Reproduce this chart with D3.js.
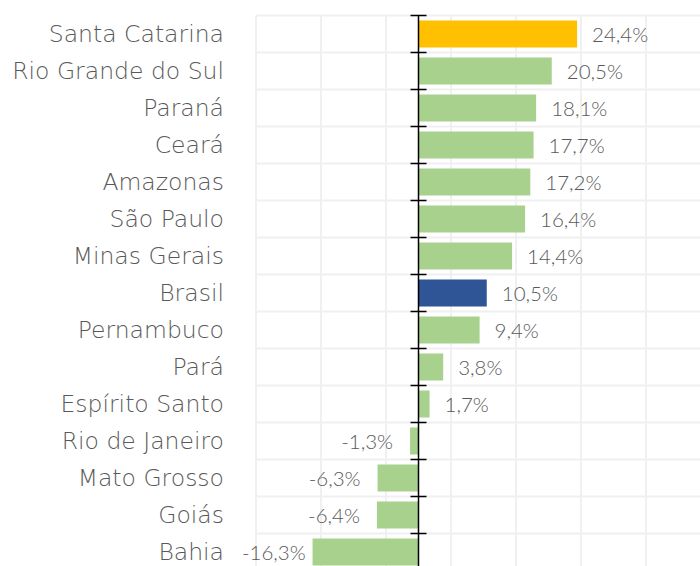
<!DOCTYPE html>
<html>
<head>
<meta charset="utf-8">
<script src="https://cdn.jsdelivr.net/npm/d3@7"></script>
<style>
  body { margin: 0; background: #fff; }
  text { fill: #595959; }
  .val { font-family: "Lato", "Open Sans", sans-serif; font-weight: 300; }
  .cat { font-family: "DejaVu Sans", sans-serif; font-weight: 300; }
</style>
</head>
<body>
<div id="chart"></div>
<script>
const states = ["Santa Catarina", "Rio Grande do Sul", "Paraná", "Ceará", "Amazonas", "São Paulo",
  "Minas Gerais", "Brasil", "Pernambuco", "Pará", "Espírito Santo", "Rio de Janeiro",
  "Mato Grosso", "Goiás", "Bahia"];
const growth = [24.4, 20.5, 18.1, 17.7, 17.2, 16.4, 14.4, 10.5, 9.4, 3.8, 1.7, -1.3, -6.3, -6.4, -16.3];
const gridValues = [-25, -15, -5, 5, 15, 25, 35, 45];

const width = 700, height = 566;
const margin = {top: 15.5, right: -11, bottom: -4.5, left: 256};

const fmt = v => (v < 0 ? "-" : "") + Math.abs(v).toFixed(1).replace(".", ",") + "%";
const colorOf = s => s === "Santa Catarina" ? "#FFC000" : (s === "Brasil" ? "#2F5597" : "#A9D18E");

const svg = d3.select("#chart").append("svg")
  .attr("width", width)
  .attr("height", height);

let x = d3.scaleLinear()
  .domain([-25, 45])
  .range([margin.left, width - margin.right]);

let y = d3.scaleBand()
  .domain(states)
  .range([margin.top, height - margin.bottom])
  .paddingInner(0.27)
  .paddingOuter(0.135);

const step = y.step();
const bandTop = s => y(s) - y.paddingInner() * step / 2;

// grid
const grid = svg.append("g").attr("stroke", "#F0F0F0").attr("stroke-width", 2);
grid.selectAll("line.v")
  .data(gridValues)
  .enter().append("line")
  .attr("x1", d => x(d)).attr("x2", d => x(d))
  .attr("y1", margin.top).attr("y2", height);
grid.selectAll("line.h")
  .data(states)
  .enter().append("line")
  .attr("x1", margin.left).attr("x2", width)
  .attr("y1", d => bandTop(d)).attr("y2", d => bandTop(d));

// bars
svg.append("g")
  .selectAll("rect")
  .data(states)
  .enter().append("rect")
  .attr("x", (d, i) => x(Math.min(0, growth[i])))
  .attr("width", (d, i) => Math.abs(x(growth[i]) - x(0)))
  .attr("y", d => y(d))
  .attr("height", y.bandwidth())
  .attr("fill", d => colorOf(d));

// value labels
svg.append("g")
  .selectAll("text")
  .data(states)
  .enter().append("text")
  .attr("class", "val")
  .attr("y", d => y(d) + y.bandwidth() / 2 + 1)
  .attr("dy", "0.35em")
  .attr("font-size", 20.5)
  .text((d, i) => fmt(growth[i]))
  .each(function(d, i) {
    const v = growth[i];
    const w = this.getComputedTextLength();
    let left = v >= 0 ? x(v) + 15 : x(v) - 17 - w;
    if (left < 242) left = 242; // keep inside chart area
    d3.select(this).attr("x", left);
  });

// axis at zero
const axis = svg.append("g").attr("stroke", "#000").attr("stroke-width", 1.5);
axis.append("line")
  .attr("x1", x(0)).attr("x2", x(0))
  .attr("y1", margin.top).attr("y2", height);
axis.selectAll("line.tick")
  .data(states)
  .enter().append("line")
  .attr("x1", x(0) - 8).attr("x2", x(0) + 8)
  .attr("y1", d => bandTop(d)).attr("y2", d => bandTop(d));

// category labels
svg.append("g")
  .selectAll("text")
  .data(states)
  .enter().append("text")
  .attr("class", "cat")
  .attr("x", 224)
  .attr("y", d => y(d) + y.bandwidth() / 2)
  .attr("dy", "0.35em")
  .attr("text-anchor", "end")
  .attr("font-size", 23.5)
  .text(d => d);
</script>
</body>
</html>
